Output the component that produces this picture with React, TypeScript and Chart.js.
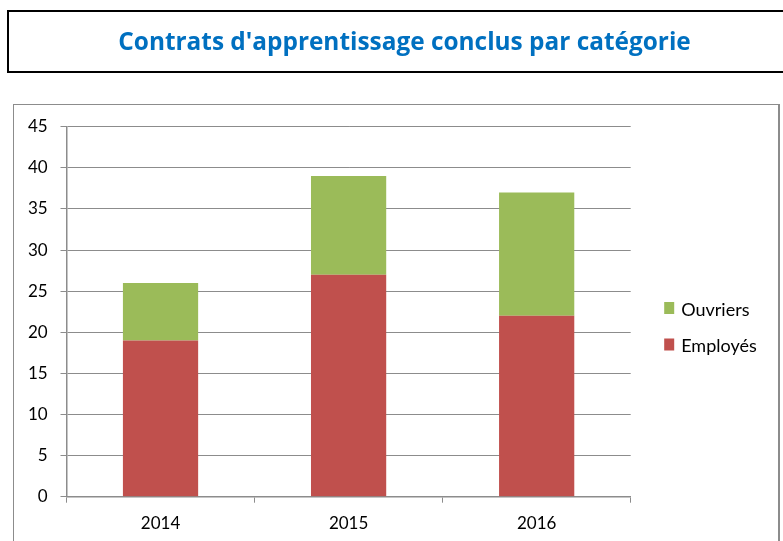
import React, { useEffect, useRef } from "react";
import { Chart, registerables } from "chart.js";

Chart.register(...registerables);

const TITLE = "Contrats d'apprentissage conclus par catégorie";
const categories = ["2014", "2015", "2016"];
const employes = [19, 27, 22];
const ouvriers = [7, 12, 15];
const seriesNames = ["Employés", "Ouvriers"];
const seriesColors = ["#C0504D", "#9BBB59"];
const yMax = 45;
const yStep = 5;

const FONT = "Lato, 'Open Sans', sans-serif";
const TITLE_FONT = "'Open Sans', Lato, sans-serif";
const GRID = "#8C8C8C";

const legendPlugin = {
  id: "sideLegend",
  afterDraw(chart: any) {
    const ctx = chart.ctx;
    const ds = chart.data.datasets.slice().reverse();
    ctx.save();
    ctx.font = `18px ${FONT}`;
    ctx.textBaseline = "middle";
    ctx.textAlign = "left";
    const x0 = chart.chartArea.right + 33.5;
    const yStart = 308;
    const gap = 36.5;
    ds.forEach((d: any, i: number) => {
      const cy = yStart + i * gap;
      ctx.fillStyle = d.backgroundColor;
      ctx.fillRect(x0, cy - 6, 10, 12);
      ctx.fillStyle = "#000";
      ctx.fillText(d.label, x0 + 17, cy + 2);
    });
    ctx.restore();
  },
};

export default function App() {
  const ref = useRef<HTMLCanvasElement>(null);
  useEffect(() => {
    if (!ref.current) return;
    const chart = new Chart(ref.current, {
      type: "bar",
      data: {
        labels: categories,
        datasets: [
          { label: seriesNames[0], data: employes, backgroundColor: seriesColors[0], borderWidth: 0 },
          { label: seriesNames[1], data: ouvriers, backgroundColor: seriesColors[1], borderWidth: 0 },
        ],
      },
      options: {
        animation: false,
        responsive: false,
        devicePixelRatio: 1,
        events: [],
        layout: { padding: { left: 0, top: 126.7, right: 152.3, bottom: 0 } },
        plugins: { legend: { display: false }, title: { display: false }, tooltip: { enabled: false } },
        datasets: { bar: { barPercentage: 0.4, categoryPercentage: 1 } },
        scales: {
          x: {
            stacked: true,
            afterFit: (s: any) => { s.height = 44.3; },
            grid: { display: true, drawOnChartArea: false, drawTicks: true, tickLength: 6, color: GRID, offset: true },
            border: { display: true, color: GRID, width: 1.5 },
            ticks: { color: "#000", font: { family: FONT, size: 17 }, padding: 10.4, maxRotation: 0 },
          },
          y: {
            stacked: true,
            min: 0,
            max: yMax,
            afterFit: (s: any) => { s.width = 66.5; },
            grid: { color: GRID, lineWidth: 1, tickLength: 6, drawTicks: true },
            border: { display: true, color: GRID, width: 1.5 },
            ticks: { stepSize: yStep, color: "#000", font: { family: FONT, size: 17 }, padding: 12.8 },
          },
        },
      },
      plugins: [legendPlugin],
    });
    return () => chart.destroy();
  }, []);

  return (
    <div>
      <div
        style={{
          position: "fixed",
          left: 7,
          top: 10,
          width: 820,
          height: 59,
          border: "2px solid #000",
          boxSizing: "content-box",
        }}
      />
      <div
        style={{
          position: "fixed",
          left: 0,
          top: 27.5,
          width: 809,
          textAlign: "center",
          fontFamily: TITLE_FONT,
          fontWeight: 700,
          fontSize: 24.4,
          lineHeight: "25px",
          color: "#0070C0",
          whiteSpace: "nowrap",
        }}
      >
        {TITLE}
      </div>
      <div
        style={{
          position: "fixed",
          left: 13,
          top: 104,
          width: 764,
          height: 460,
          borderLeft: "1px solid #8C8C8C",
          borderTop: "1px solid #8C8C8C",
          borderRight: "2px solid #8C8C8C",
          boxSizing: "content-box",
        }}
      />
      <canvas
        ref={ref}
        width={783}
        height={541}
        style={{ position: "fixed", left: 0, top: 0, width: 783, height: 541 }}
      />
    </div>
  );
}
